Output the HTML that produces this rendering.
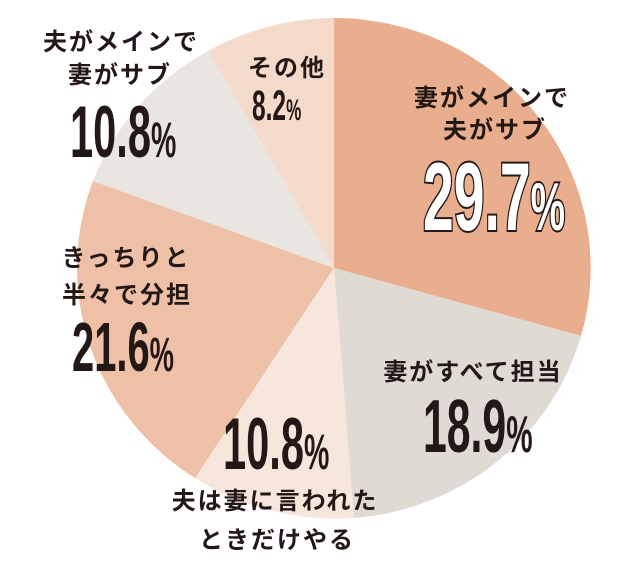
<!DOCTYPE html>
<html><head><meta charset="utf-8"><style>
html,body{margin:0;padding:0;background:#fff;}
svg{display:block}
.l{font-family:"Liberation Sans","Noto Sans CJK JP",sans-serif;font-weight:bold;font-size:24px;fill:#231815;letter-spacing:2px;text-anchor:middle}
.n{font-family:"Liberation Sans",sans-serif;font-weight:bold;fill:#231815}
</style></head><body>
<svg width="640" height="582" viewBox="0 0 640 582" xmlns="http://www.w3.org/2000/svg">
<g>
<path d="M334,268 L334,18 A257,250 0 0 1 581,336 Z" fill="#e8ae8e"/>
<path d="M334,268 L581,336 A257,250 0 0 1 354,518 Z" fill="#e0dad4"/>
<path d="M334,268 L354,518 A257,250 0 0 1 195,478 Z" fill="#f7e6dc"/>
<path d="M334,268 L195,478 A257,250 0 0 1 93,181 Z" fill="#efc0a8"/>
<path d="M334,268 L93,181 A257,250 0 0 1 208,51 Z" fill="#e9e5e0"/>
<path d="M334,268 L208,51 A257,250 0 0 1 334,18 Z" fill="#f4dacb"/>
</g>
<text class="l" x="121" y="50">夫がメインで</text>
<text class="l" x="120" y="83">妻がサブ</text>
<text class="n" transform="translate(70,157) scale(0.57,1)" font-size="73">10.8<tspan font-size="50">%</tspan></text>

<text class="l" x="287" y="76">その他</text>
<text class="n" transform="translate(252,120) scale(0.57,1)" font-size="43">8.2<tspan font-size="30">%</tspan></text>

<text class="l" x="492" y="106">妻がメインで</text>
<text class="l" x="495" y="138">夫がサブ</text>
<text class="n" transform="translate(423,230) scale(0.57,1)" font-size="97" fill="#fff" stroke="#231815" stroke-width="4" paint-order="stroke" style="fill:#fff">29.7<tspan font-size="68">%</tspan></text>

<text class="l" x="126" y="266">きっちりと</text>
<text class="l" x="127" y="303">半々で分担</text>
<text class="n" transform="translate(72,371) scale(0.57,1)" font-size="70">21.6<tspan font-size="48">%</tspan></text>

<text class="l" x="473" y="380">妻がすべて担当</text>
<text class="n" transform="translate(423,452) scale(0.57,1)" font-size="75">18.9<tspan font-size="52">%</tspan></text>

<text class="n" transform="translate(223,469) scale(0.57,1)" font-size="73">10.8<tspan font-size="50">%</tspan></text>
<text class="l" x="275" y="509">夫は妻に言われた</text>
<text class="l" x="277" y="548">ときだけやる</text>
</svg>
</body></html>
